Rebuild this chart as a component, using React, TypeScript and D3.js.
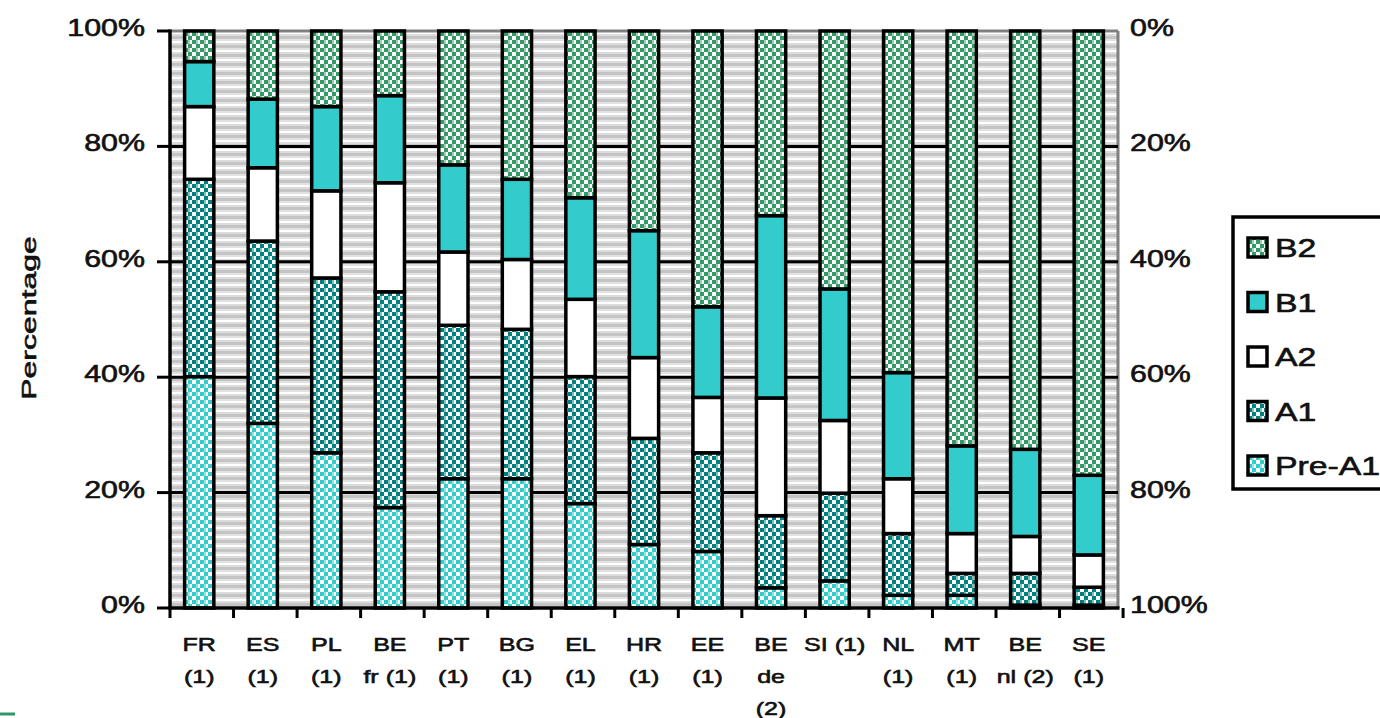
import React from "react";
import * as d3 from "d3";

// ---- data ----
const categories: string[][] = [
  ["FR", "(1)"], ["ES", "(1)"], ["PL", "(1)"], ["BE", "fr (1)"], ["PT", "(1)"],
  ["BG", "(1)"], ["EL", "(1)"], ["HR", "(1)"], ["EE", "(1)"], ["BE", "de", "(2)"],
  ["SI (1)"], ["NL", "(1)"], ["MT", "(1)"], ["BE", "nl (2)"], ["SE", "(1)"],
];
const levels = ["Pre-A1", "A1", "A2", "B1", "B2"];
const preA1 = [40.1, 32.0, 26.9, 17.4, 22.4, 22.4, 18.1, 11.0, 9.8, 3.5, 4.7, 2.2, 2.2, 0.5, 0.5];
const a1 = [34.2, 31.6, 30.3, 37.4, 26.6, 25.9, 22.0, 18.4, 17.1, 12.5, 15.2, 10.7, 3.8, 5.5, 3.1];
const a2 = [12.6, 12.7, 15.1, 18.9, 12.7, 12.1, 13.4, 14.0, 9.6, 20.4, 12.6, 9.5, 6.9, 6.4, 5.6];
const b1 = [7.8, 11.9, 14.6, 15.1, 15.1, 13.9, 17.6, 22.0, 15.7, 31.6, 22.8, 18.4, 15.2, 15.1, 13.8];
const b2 = [5.3, 11.8, 13.1, 11.2, 23.2, 25.7, 28.9, 34.6, 47.8, 32.0, 44.7, 59.2, 71.9, 72.5, 77.0];
const leftTicks = [0, 20, 40, 60, 80, 100];
const rightTicks = [0, 20, 40, 60, 80, 100];
const legendOrder = ["B2", "B1", "A2", "A1", "Pre-A1"];
const yTitle = "Percentage";

const fills: Record<string, string> = {
  "Pre-A1": "url(#pPre)",
  A1: "url(#pA1)",
  A2: "#ffffff",
  B1: "#33cccc",
  B2: "url(#pB2)",
};

const FONT = "'Liberation Sans', Arial, sans-serif";
const TXT = { fill: "#111", stroke: "#111", strokeWidth: 0.6 };

export default function App() {
  const W = 1380, H = 718;
  const left = 170, right = 1118, top = 31, bottom = 608;

  const rows = categories.map((c, i) => ({
    key: c.join(" "),
    "Pre-A1": preA1[i], A1: a1[i], A2: a2[i], B1: b1[i], B2: b2[i],
  }));
  const stack = d3.stack<any>().keys(levels)(rows);

  const x = d3.scaleBand<number>()
    .domain(d3.range(categories.length))
    .range([left, right])
    .paddingInner(0.54)
    .paddingOuter(0.23);
  const step = x.step();
  const y = d3.scaleLinear().domain([0, 100]).range([bottom, top]);
  const yR = d3.scaleLinear().domain([0, 100]).range([top, bottom]);

  const sx = 1.32;

  return (
    <svg width={W} height={H} style={{ position: "absolute", left: 0, top: 0, background: "#fff" }}
      fontFamily={FONT}>
      <defs>
        <pattern id="bg" width="8" height="9" patternUnits="userSpaceOnUse">
          <rect width="8" height="9" fill="#ffffff" />
          <rect y="0" width="8" height="3" fill="#c4c4c4" />
          <rect y="3" width="8" height="2" fill="#e2e2e2" />
          <rect y="7" width="8" height="2" fill="#dcdcdc" />
        </pattern>
        <pattern id="pB2" width="8" height="8" patternUnits="userSpaceOnUse">
          <rect width="8" height="8" fill="#ffffff" />
          <rect x="0" y="0" width="4" height="4" fill="#339966" />
          <rect x="4" y="4" width="4" height="4" fill="#339966" />
          <rect x="4" y="0" width="2" height="4" fill="#9fd0b4" />
        </pattern>
        <pattern id="pA1" width="8" height="8" patternUnits="userSpaceOnUse">
          <rect width="8" height="8" fill="#ffffff" />
          <rect x="0" y="0" width="4" height="4" fill="#008080" />
          <rect x="4" y="4" width="4" height="4" fill="#008080" />
          <rect x="4" y="0" width="2" height="4" fill="#7fbfbf" />
        </pattern>
        <pattern id="pPre" width="8" height="8" patternUnits="userSpaceOnUse">
          <rect width="8" height="8" fill="#ffffff" />
          <rect x="0" y="0" width="4" height="4" fill="#33cccc" />
          <rect x="4" y="4" width="4" height="4" fill="#33cccc" />
          <rect x="4" y="0" width="2" height="4" fill="#99e5e5" />
        </pattern>
      </defs>

      {/* plot background */}
      <rect x={left} y={top} width={right - left} height={bottom - top} fill="url(#bg)" />
      <line x1={left} x2={right} y1={top} y2={top} stroke="#808080" strokeWidth={3} />
      <line x1={right} x2={right} y1={top} y2={bottom} stroke="#808080" strokeWidth={3} />
      {leftTicks.filter(t => t > 0 && t < 100).map(t => (
        <line key={t} x1={left} x2={right} y1={y(t)} y2={y(t)} stroke="#000" strokeWidth={3} />
      ))}

      {/* bars */}
      {stack.map(layer => (
        <g key={layer.key}>
          {layer.map((d, i) => (
            <rect key={i}
              x={x(i)!} width={x.bandwidth()}
              y={y(d[1])} height={Math.max(0, y(d[0]) - y(d[1]))}
              fill={fills[layer.key]} stroke="#000" strokeWidth={3.5} />
          ))}
        </g>
      ))}

      {/* axes */}
      <line x1={left} x2={left} y1={top - 1.5} y2={bottom + 1.5} stroke="#000" strokeWidth={3.5} />
      <line x1={left - 1.5} x2={right + 1.5} y1={bottom} y2={bottom} stroke="#000" strokeWidth={3.5} />
      {leftTicks.map(t => (
        <g key={t}>
          <line x1={left - 13} x2={left} y1={y(t)} y2={y(t)} stroke="#000" strokeWidth={3} />
          <text transform={`translate(${145},${y(t) + 5}) scale(${sx},1)`} textAnchor="end"
            fontSize={23} {...TXT}>{t}%</text>
        </g>
      ))}
      {rightTicks.map(t => (
        <text key={t} transform={`translate(${1130},${yR(t) + 5}) scale(${sx},1)`} textAnchor="start"
          fontSize={23} {...TXT}>{t}%</text>
      ))}
      {d3.range(categories.length + 1).map(i => (
        <line key={i} x1={left + i * step} x2={left + i * step} y1={bottom} y2={bottom + 10}
          stroke="#000" strokeWidth={3} />
      ))}
      {categories.map((lines, i) => (
        <g key={i}>
          {lines.map((ln, j) => (
            <text key={j} transform={`translate(${x(i)! + x.bandwidth() / 2},${651 + j * 32}) scale(${sx},1)`}
              textAnchor="middle" fontSize={19} {...TXT}>{ln}</text>
          ))}
        </g>
      ))}

      {/* y title */}
      <text transform={`translate(${36},${318}) rotate(-90) scale(1.6,1)`} textAnchor="middle"
        fontSize={20} {...TXT}>{yTitle}</text>

      {/* legend */}
      <rect x={1233} y={217} width={170} height={272} fill="#fff" stroke="#000" strokeWidth={3.5} />
      {legendOrder.map((k, i) => {
        const cy = 248 + i * 54.5;
        return (
          <g key={k}>
            <rect x={1248} y={cy - 10} width={19} height={19} fill={fills[k]} stroke="#000" strokeWidth={3.5} />
            <text transform={`translate(${1275},${cy + 9}) scale(1.3,1)`} fontSize={26} {...TXT}>{k}</text>
          </g>
        );
      })}
      <line x1={0} x2={15} y1={714} y2={714} stroke="#2e9966" strokeWidth={3} />
    </svg>
  );
}
